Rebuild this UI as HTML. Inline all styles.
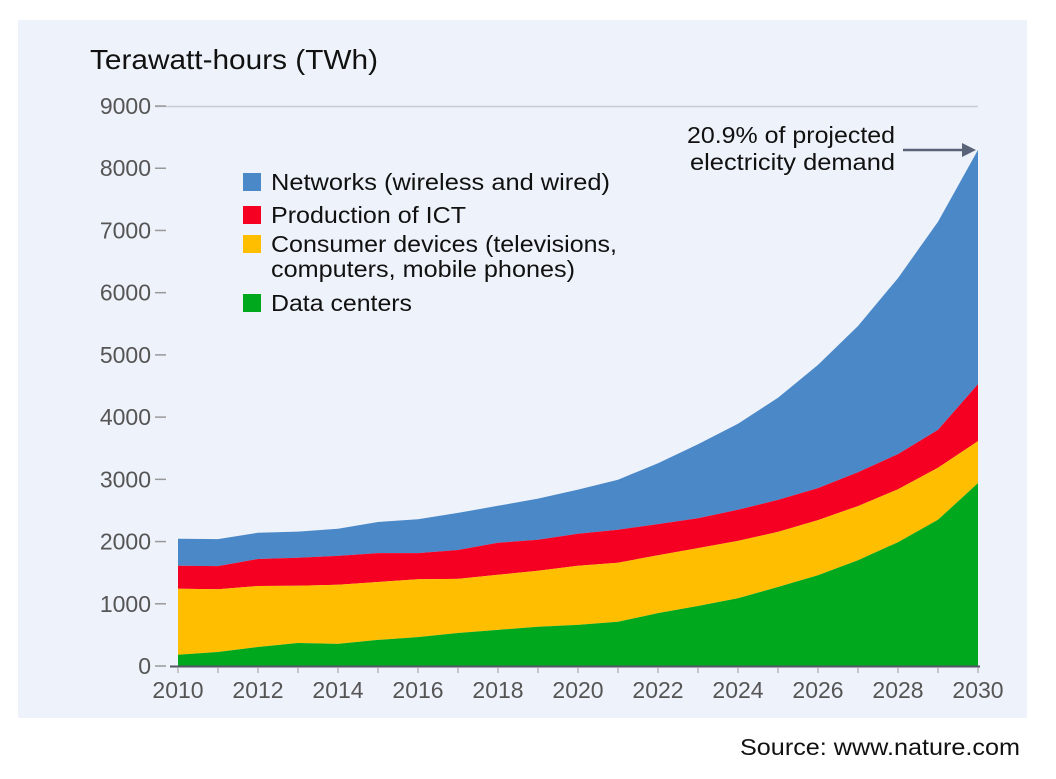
<!DOCTYPE html>
<html><head><meta charset="utf-8">
<style>
html,body{margin:0;padding:0;background:#fff;}
body{width:1056px;height:774px;overflow:hidden;font-family:"Liberation Sans",sans-serif;}
</style></head>
<body>
<svg width="1056" height="774" viewBox="0 0 1056 774" xmlns="http://www.w3.org/2000/svg" font-family="Liberation Sans, sans-serif">
<rect x="18" y="20" width="1009" height="698" fill="#eef2fa"/>
<text x="90" y="69" font-size="28" fill="#111" textLength="288" lengthAdjust="spacingAndGlyphs">Terawatt-hours (TWh)</text>
<line x1="155" y1="106.5" x2="978" y2="106.5" stroke="#c8ccd4" stroke-width="1.5"/>
<g id="layers"></g>
<g id="axes"></g>
<g font-size="23" fill="#111">
 <rect x="243" y="173" width="18" height="18" fill="#4a88c8"/>
 <text x="271" y="190" textLength="339" lengthAdjust="spacingAndGlyphs">Networks (wireless and wired)</text>
 <rect x="243" y="206" width="18" height="18" fill="#f50022"/>
 <text x="271" y="223" textLength="195" lengthAdjust="spacingAndGlyphs">Production of ICT</text>
 <rect x="243" y="235" width="18" height="18" fill="#ffbf00"/>
 <text x="271" y="252" textLength="346" lengthAdjust="spacingAndGlyphs">Consumer devices (televisions,</text>
 <text x="271" y="277" textLength="304" lengthAdjust="spacingAndGlyphs">computers, mobile phones)</text>
 <rect x="243" y="294" width="18" height="18" fill="#00a81e"/>
 <text x="271" y="311" textLength="141" lengthAdjust="spacingAndGlyphs">Data centers</text>
</g>
<g font-size="23" fill="#111">
 <text x="687" y="143" textLength="208" lengthAdjust="spacingAndGlyphs">20.9% of projected</text>
 <text x="690" y="170" textLength="205" lengthAdjust="spacingAndGlyphs">electricity demand</text>
</g>
<line x1="903" y1="150" x2="966" y2="150" stroke="#5a6478" stroke-width="2.5"/>
<polygon points="976,150 962,143 962,157" fill="#5a6478"/>
<text x="740" y="755" font-size="23" fill="#111" textLength="280" lengthAdjust="spacingAndGlyphs">Source: www.nature.com</text>
</svg>
<script>
const years=[2010,2011,2012,2013,2014,2015,2016,2017,2018,2019,2020,2021,2022,2023,2024,2025,2026,2027,2028,2029,2030];
const dataCenters=[180,225,305,370,355,420,465,530,580,630,660,710,850,965,1090,1270,1460,1700,1990,2350,2940];
const consumerDevices=[1060,1010,980,920,950,930,930,870,885,900,950,950,930,930,920,885,885,870,850,835,675];
const productionICT=[370,370,435,450,465,465,420,465,515,500,515,530,500,480,500,515,515,545,565,610,915];
const networks=[435,435,420,420,435,500,545,595,595,660,710,805,980,1190,1385,1640,1980,2350,2830,3345,3765];
const yTicks=[0,1000,2000,3000,4000,5000,6000,7000,8000,9000];
const xTickLabels=[2010,2012,2014,2016,2018,2020,2022,2024,2026,2028,2030];
const NS='http://www.w3.org/2000/svg';
function xs(yr){return 178+(yr-2010)*40;}
function ys(v){return 666-v*0.06222;}
const layers=document.getElementById('layers');
const series=[[dataCenters,'#00a81e','area-data-centers'],[consumerDevices,'#ffbf00','area-consumer-devices'],[productionICT,'#f50022','area-production-ict'],[networks,'#4a88c8','area-networks']];
let base=years.map(()=>0);
series.forEach(s=>{
  const top=base.map((b,i)=>b+s[0][i]);
  let pts=years.map((y,i)=>xs(y)+','+ys(top[i]).toFixed(1));
  for(let i=years.length-1;i>=0;i--)pts.push(xs(years[i])+','+ys(base[i]).toFixed(1));
  const p=document.createElementNS(NS,'polygon');
  p.setAttribute('points',pts.join(' '));
  p.setAttribute('fill',s[1]);
  
  
  layers.insertBefore(p,layers.firstChild);
  base=top;
});
const axes=document.getElementById('axes');
yTicks.forEach(v=>{
  const l=document.createElementNS(NS,'line');
  l.setAttribute('x1',155);l.setAttribute('x2',166);
  l.setAttribute('y1',ys(v));l.setAttribute('y2',ys(v));
  l.setAttribute('stroke','#999');l.setAttribute('stroke-width','1.5');
  
  
  axes.appendChild(l);
  const t=document.createElementNS(NS,'text');
  t.setAttribute('x',151);t.setAttribute('y',ys(v)+8);
  t.setAttribute('text-anchor','end');t.setAttribute('font-size','23');t.setAttribute('fill','#555');
  t.textContent=v;
  
  
  axes.appendChild(t);
});
const ax=document.createElementNS(NS,'line');
ax.setAttribute('x1',170);ax.setAttribute('x2',980);ax.setAttribute('y1',666.5);ax.setAttribute('y2',666.5);
ax.setAttribute('stroke','#556');ax.setAttribute('stroke-width','2');


axes.appendChild(ax);
years.forEach(y=>{
  const l=document.createElementNS(NS,'line');
  l.setAttribute('x1',xs(y));l.setAttribute('x2',xs(y));l.setAttribute('y1',667);l.setAttribute('y2',673);
  l.setAttribute('stroke','#999');
  
  
  axes.appendChild(l);
});
xTickLabels.forEach(y=>{
  const t=document.createElementNS(NS,'text');
  t.setAttribute('x',xs(y));t.setAttribute('y',698);
  t.setAttribute('text-anchor','middle');t.setAttribute('font-size','23');t.setAttribute('fill','#555');
  t.textContent=y;
  
  
  axes.appendChild(t);
});
</script>
</body></html>
